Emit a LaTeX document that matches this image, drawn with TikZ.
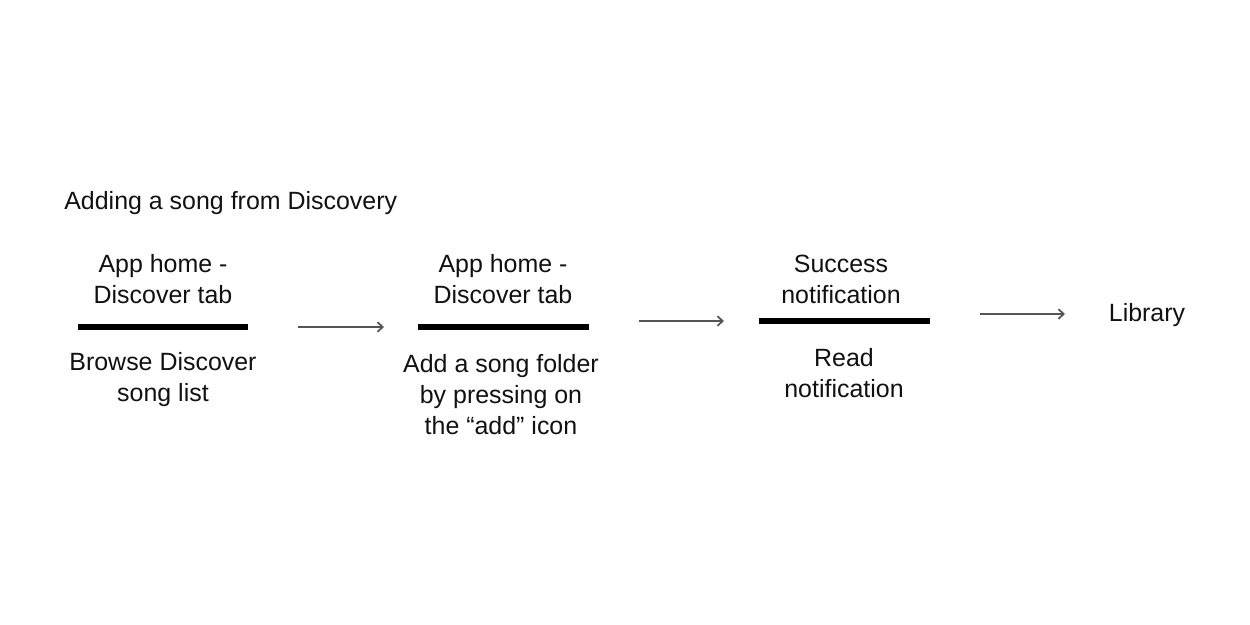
\documentclass[tikz,border=0pt]{standalone}
\usepackage{fontspec}
\setmainfont{Liberation Sans}
\usetikzlibrary{arrows.meta}
\definecolor{txt}{HTML}{111111}
\definecolor{arr}{HTML}{555555}
\tikzset{
  lbl/.style={font=\fontsize{14.2}{17.6}\selectfont, text=txt, align=center, inner sep=0pt},
  bar/.style={line width=3.4pt, black},
  flow/.style={draw=arr, line width=0.9pt, -{Straight Barb[length=3pt,width=5.5pt,line width=1pt]}},
}
\begin{document}
\begin{tikzpicture}[x=0.02cm,y=-0.02cm]
\useasboundingbox[fill=white] (0,0) rectangle (1250,625);
\node[lbl, anchor=west] (title) at (64,203.5) {Adding a song from Discovery};
% step 1
\coordinate (b1l) at (78,327); \coordinate (b1r) at (248,327);
\draw[bar] (b1l) -- (b1r);
\node[lbl] (t1) at (163,279) {App home -\\Discover tab};
\node[lbl] (d1) at (163,380) {Browse Discover\\song list};
% step 2
\coordinate (b2l) at (418,327); \coordinate (b2r) at (589,327);
\draw[bar] (b2l) -- (b2r);
\node[lbl] (t2) at (503,279) {App home -\\Discover tab};
\node[lbl] (d2) at (501,395) {Add a song folder\\by pressing on\\the “add” icon};
% step 3
\coordinate (b3l) at (759,321); \coordinate (b3r) at (930,321);
\draw[bar] (b3l) -- (b3r);
\node[lbl] (t3) at (841,279) {Success\\notification};
\node[lbl] (d3) at (844,373.5) {Read\\notification};
% library
\node[lbl] (lib) at (1147,315) {Library};
% arrows
\coordinate (a1s) at (298,327); \coordinate (a1e) at (384,327);
\coordinate (a2s) at (639,321); \coordinate (a2e) at (724,321);
\coordinate (a3s) at (980,314); \coordinate (a3e) at (1065,314);
\draw[flow] (a1s) -- (a1e);
\draw[flow] (a2s) -- (a2e);
\draw[flow] (a3s) -- (a3e);
\end{tikzpicture}
\end{document}
